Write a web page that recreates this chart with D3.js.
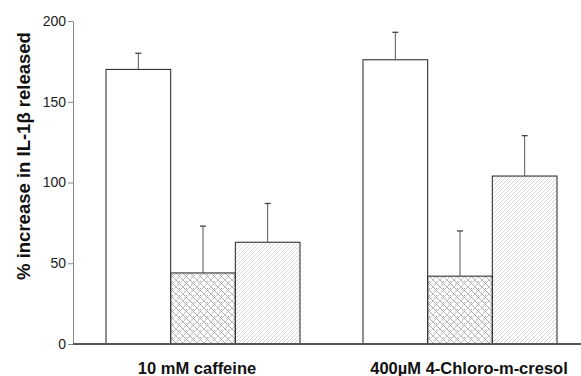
<!DOCTYPE html>
<html>
<head>
<meta charset="utf-8">
<script src="https://cdn.jsdelivr.net/npm/d3@7"></script>
<style>
  html, body { margin: 0; padding: 0; background: #fff; }
  svg { display: block; }
  text { font-family: "Liberation Sans", Arial, Helvetica, sans-serif; }
</style>
</head>
<body>
<svg id="chart" width="581" height="376"></svg>
<script>
// Stimuli (x groups) and treatments (bars within a group)
const categories = ["10 mM caffeine", "400\u00b5M 4-Chloro-m-cresol"];
const treatments = ["control", "treatmentA", "treatmentB"];
// Mean % increase in IL-1β released, one array per treatment
const controlValues = [170, 176];
const treatmentAValues = [44, 42];
const treatmentBValues = [63, 104];
// Upper error (SEM) for each bar
const controlErr = [10, 17];
const treatmentAErr = [29, 28];
const treatmentBErr = [24, 25];
const yTicks = [0, 50, 100, 150, 200];

const series = [
  { key: "control", values: controlValues, err: controlErr },
  { key: "treatmentA", values: treatmentAValues, err: treatmentAErr },
  { key: "treatmentB", values: treatmentBValues, err: treatmentBErr }
];

const svg = d3.select("#chart");
const margin = { left: 73, right: 0, top: 21, bottom: 32 };
const width = 581, height = 376;
const plotBottom = height - margin.bottom;

const y = d3.scaleLinear().domain([0, 200]).range([plotBottom, margin.top]);
// left edge of each group of three bars
const groupX = d3.scaleOrdinal().domain(categories).range([106, 363]);
const x1 = d3.scaleBand().domain(treatments).range([0, 194]);

// hatch fills
const defs = svg.append("defs");
const pA = defs.append("pattern").attr("id", "hatchA").attr("patternUnits", "userSpaceOnUse")
  .attr("width", 7).attr("height", 7);
pA.append("path").attr("d", "M-1,1 l2,-2 M0,7 l7,-7 M6,8 l2,-2").attr("stroke", "#a8a8a8").attr("stroke-width", 0.6);
pA.append("path").attr("d", "M-1,6 l2,2 M0,0 l7,7 M6,-1 l2,2").attr("stroke", "#8a8a8a").attr("stroke-width", 0.7);
pA.append("rect").attr("x", 3).attr("y", 1).attr("width", 0.9).attr("height", 0.9).attr("fill", "#888");
pA.append("rect").attr("x", 1).attr("y", 3.5).attr("width", 0.9).attr("height", 0.9).attr("fill", "#aaa");

const pB = defs.append("pattern").attr("id", "hatchB").attr("patternUnits", "userSpaceOnUse")
  .attr("width", 4).attr("height", 4);
pB.append("path").attr("d", "M-1,1 l2,-2 M0,4 l4,-4 M3,5 l2,-2").attr("stroke", "#b5b5b5").attr("stroke-width", 0.55);

const fills = { control: "#fff", treatmentA: "url(#hatchA)", treatmentB: "url(#hatchB)" };

// y axis
const yAxis = d3.axisLeft(y).tickValues(yTicks).tickSize(5).tickPadding(2).tickSizeOuter(0);
const gy = svg.append("g").attr("transform", `translate(${margin.left},0)`).call(yAxis);
gy.select(".domain").attr("stroke", "#888").attr("stroke-width", 1);
gy.selectAll(".tick line").attr("stroke", "#888");
gy.selectAll(".tick text").attr("font-size", 14).attr("fill", "#222");

// bars
const groups = svg.append("g").selectAll("g").data(categories).join("g")
  .attr("transform", d => `translate(${groupX(d)},0)`);

series.forEach(s => {
  groups.append("rect")
    .attr("x", x1(s.key))
    .attr("y", (d, i) => y(s.values[i]))
    .attr("width", x1.bandwidth())
    .attr("height", (d, i) => plotBottom - y(s.values[i]))
    .attr("fill", fills[s.key])
    .attr("stroke", "#333")
    .attr("stroke-width", 1.1);
  // error bars (upper only)
  groups.append("line")
    .attr("x1", x1(s.key) + x1.bandwidth() / 2)
    .attr("x2", x1(s.key) + x1.bandwidth() / 2)
    .attr("y1", (d, i) => y(s.values[i]))
    .attr("y2", (d, i) => y(s.values[i] + s.err[i]))
    .attr("stroke", "#555").attr("stroke-width", 1);
  groups.append("line")
    .attr("x1", x1(s.key) + x1.bandwidth() / 2 - 3)
    .attr("x2", x1(s.key) + x1.bandwidth() / 2 + 3)
    .attr("y1", (d, i) => y(s.values[i] + s.err[i]))
    .attr("y2", (d, i) => y(s.values[i] + s.err[i]))
    .attr("stroke", "#444").attr("stroke-width", 1.3);
});

// x axis baseline
svg.append("line").attr("x1", margin.left).attr("x2", width)
  .attr("y1", plotBottom).attr("y2", plotBottom)
  .attr("stroke", "#555").attr("stroke-width", 2);

// category labels
const labelX = d3.scaleOrdinal().domain(categories).range([197, 469]);
svg.append("g").selectAll("text").data(categories).join("text")
  .attr("x", d => labelX(d)).attr("y", 374)
  .attr("text-anchor", "middle").attr("font-size", 16.5).attr("font-weight", "bold")
  .attr("fill", "#111").text(d => d);

// y axis title
svg.append("text")
  .attr("transform", `translate(30,156) rotate(-90)`)
  .attr("text-anchor", "middle").attr("font-size", 18.5).attr("font-weight", "bold")
  .attr("fill", "#111").text("% increase in IL-1\u03b2 released");
</script>
</body>
</html>
